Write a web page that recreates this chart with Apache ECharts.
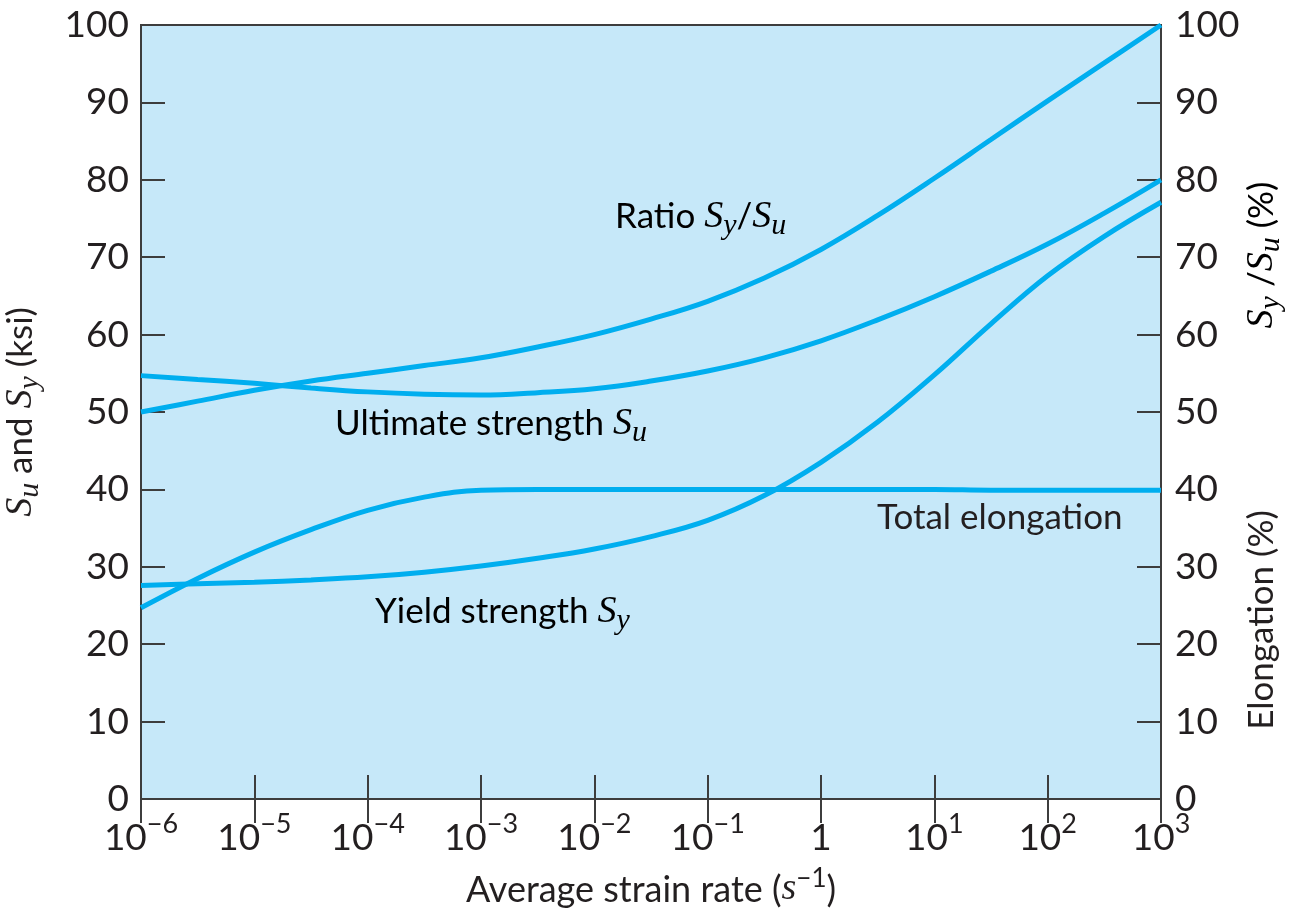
<!DOCTYPE html>
<html>
<head>
<meta charset="utf-8">
<script src="https://cdn.jsdelivr.net/npm/echarts@6/dist/echarts.min.js"></script>
<style>
  html, body { margin: 0; padding: 0; background: #fff; }
  #main { width: 1291px; height: 910px; }
</style>
</head>
<body>
<div id="main"></div>
<script>
// strain rate, as powers of ten (s^-1)
var rateExp = [-6, -5.5, -5, -4.5, -4, -3.5, -3, -2.5, -2, -1.5, -1, -0.5, 0, 0.5, 1, 1.5, 2, 2.5, 3];
// values
var ratioSySu = [50.0, 51.4, 52.8, 54.0, 55.0, 56.0, 57.0, 58.4, 60.0, 62.0, 64.3, 67.3, 71.0, 75.4, 80.2, 85.2, 90.2, 95.1, 100];
var ultimateSu = [54.7, 54.2, 53.7, 53.1, 52.6, 52.3, 52.2, 52.5, 53.0, 54.0, 55.3, 57.0, 59.2, 61.9, 64.9, 68.2, 71.7, 75.7, 80.0];
var yieldSy = [27.6, 27.8, 28.0, 28.3, 28.7, 29.3, 30.1, 31.1, 32.3, 33.9, 36.0, 39.2, 43.5, 48.7, 54.8, 61.4, 67.6, 72.7, 77.1];
var elongation = [24.7, 28.5, 31.9, 34.8, 37.3, 39.0, 39.9, 40.0, 40.0, 40.0, 40.0, 40.0, 40.0, 40.0, 40.0, 39.9, 39.9, 39.9, 39.9];

var LINE = '#00aeef';
var INK = '#231f20';
var AXIS = '#3d3d3d';
var FONT = 'Lato';

function pairs(vals) {
    return rateExp.map(function(e, i) { return [Math.pow(10, e), vals[i]]; });
}

function expLabel(value) {
    var e = Math.round(Math.log(value) / Math.LN10);
    if (e === 0) return '{b|1}';
    return '{b|10}{s|' + (e < 0 ? '\u2212' + (-e) : e) + '}';
}

var supRich = {
    b: {fontFamily: FONT, fontSize: 37, color: INK, lineHeight: 46, verticalAlign: 'bottom'},
    s: {fontFamily: FONT, fontSize: 27, color: INK, lineHeight: 46, verticalAlign: 'top'}
};

// italic S with a lowered subscript
var symRich = {
    t: {fontFamily: FONT, fontSize: 35, color: INK},
    i: {fontFamily: 'Liberation Serif', fontStyle: 'italic', fontSize: 38, color: INK},
    u: {fontFamily: 'Liberation Serif', fontStyle: 'italic', fontSize: 30, color: INK, padding: [18, 0, 0, 0]}
};

function lineSeries(name, vals) {
    return {
        name: name,
        type: 'line',
        smooth: 0.4,
        showSymbol: false,
        lineStyle: {color: LINE, width: 5},
        data: pairs(vals)
    };
}

var yCommon = {
    type: 'value',
    min: 0,
    max: 100,
    interval: 10,
    axisLine: {show: true, lineStyle: {color: AXIS, width: 2}},
    axisTick: {show: true, inside: true, length: 24, lineStyle: {color: AXIS, width: 2}},
    splitLine: {show: false},
    axisLabel: {fontFamily: FONT, fontSize: 37, color: INK, margin: 12}
};

var myChart = echarts.init(document.getElementById('main'));

option = {
    backgroundColor: '#fff',
    animation: false,
    grid: {
        left: 141, right: 130, top: 25, bottom: 111,
        outerBoundsMode: 'none',
        containLabel: false,
        show: true,
        backgroundColor: '#c6e8f9',
        borderColor: AXIS,
        borderWidth: 2
    },
    xAxis: [{
        type: 'log',
        logBase: 10,
        min: 1e-6,
        max: 1e3,
        splitNumber: 9,
        position: 'bottom',
        axisLine: {show: true, lineStyle: {color: AXIS, width: 2}},
        axisTick: {show: true, inside: true, length: 24, lineStyle: {color: AXIS, width: 2}},
        minorTick: {show: false},
        splitLine: {show: false},
        axisLabel: {margin: 12, formatter: expLabel, rich: supRich},
        name: '{t|Average strain rate (}{i|s}{e|\u22121}{t|)}',
        nameLocation: 'middle',
        nameGap: 67,
        nameTextStyle: {
            rich: {
                t: {fontFamily: FONT, fontSize: 36, color: INK, lineHeight: 42, verticalAlign: 'bottom'},
                i: {fontFamily: 'Liberation Serif', fontStyle: 'italic', fontSize: 38, color: INK, lineHeight: 42, verticalAlign: 'bottom'},
                e: {fontFamily: FONT, fontSize: 26, color: INK, lineHeight: 42, verticalAlign: 'top'}
            }
        }
    }, {
        type: 'log',
        logBase: 10,
        min: 1e-6,
        max: 1e3,
        splitNumber: 9,
        position: 'top',
        axisLine: {show: true, lineStyle: {color: AXIS, width: 2}},
        axisTick: {show: true, inside: true, length: 24, lineStyle: {color: AXIS, width: 2}},
        splitLine: {show: false},
        axisLabel: {show: false}
    }],
    yAxis: [
        Object.assign({}, yCommon, {
            position: 'left',
            name: '{i|S}{u|u}{t| and }{i|S}{u|y}{t| (ksi)}',
            nameLocation: 'middle',
            nameRotate: 90,
            nameGap: 96,
            nameTextStyle: {rich: symRich}
        }),
        Object.assign({}, yCommon, {
            position: 'right',
            axisLabel: {fontFamily: FONT, fontSize: 37, color: INK, margin: 14}
        })
    ],
    graphic: [
        {type: 'text', x: 1262, y: 255, rotation: Math.PI / 2,
         style: {text: '{i|S}{u|y}{t| /}{i|S}{u|u}{t| (%)}', rich: symRich, align: 'center', verticalAlign: 'middle'}},
        {type: 'text', x: 1262, y: 620, rotation: Math.PI / 2,
         style: {text: 'Elongation (%)', fontFamily: FONT, fontSize: 35, fill: INK, align: 'center', verticalAlign: 'middle'}},
        {type: 'text', x: 615, y: 217,
         style: {text: '{t|Ratio }{i|S}{u|y}{t|/}{i|S}{u|u}', rich: symRich, align: 'left', verticalAlign: 'middle'}},
        {type: 'text', x: 335, y: 424,
         style: {text: '{t|Ultimate strength }{i|S}{u|u}', rich: symRich, align: 'left', verticalAlign: 'middle'}},
        {type: 'text', x: 375, y: 612,
         style: {text: '{t|Yield strength }{i|S}{u|y}', rich: symRich, align: 'left', verticalAlign: 'middle'}},
        {type: 'text', x: 877, y: 518,
         style: {text: 'Total elongation', fontFamily: FONT, fontSize: 35, fill: INK, align: 'left', verticalAlign: 'middle'}}
    ],
    series: [
        lineSeries('Ratio Sy/Su', ratioSySu),
        lineSeries('Ultimate strength Su', ultimateSu),
        lineSeries('Yield strength Sy', yieldSy),
        lineSeries('Total elongation', elongation)
    ]
};

myChart.setOption(option);
</script>
</body>
</html>
